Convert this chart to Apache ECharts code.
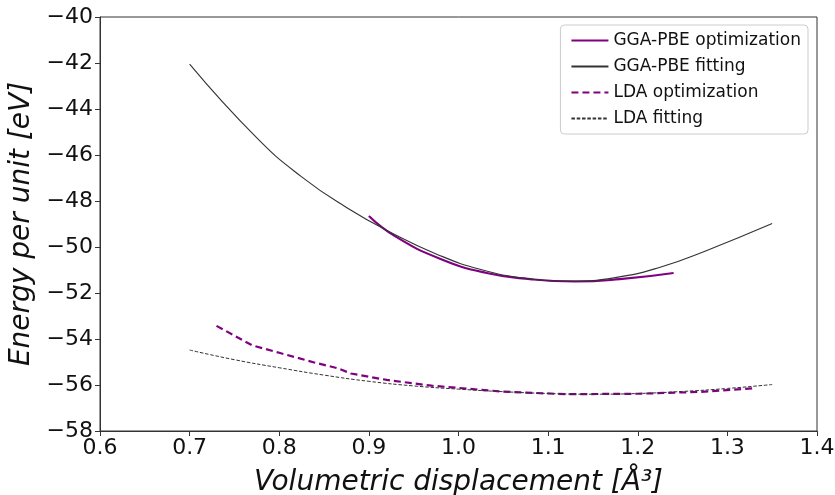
<!DOCTYPE html>
<html>
<head>
<meta charset="utf-8">
<script src="https://cdn.jsdelivr.net/npm/echarts@6/dist/echarts.min.js"></script>
<style>
html,body{margin:0;padding:0;background:#fff;}
#chart{width:835px;height:495px;}
</style>
</head>
<body>
<div id="chart"></div>
<script>
// ---- data ----
const ggaFitX = [0.70, 0.775, 0.825, 0.875, 0.925, 0.975, 1.025, 1.075, 1.125, 1.175, 1.225, 1.275, 1.35];
const ggaFitY = [-42.05, -45.26, -46.95, -48.28, -49.38, -50.3, -50.98, -51.36, -51.48, -51.33, -50.88, -50.18, -48.98];

const ggaOptX = [0.90, 0.93, 0.98, 1.03, 1.08, 1.13, 1.18, 1.24];
const ggaOptY = [-48.65, -49.55, -50.52, -51.12, -51.4, -51.5, -51.4, -51.13];

const ldaFitX = [0.70, 0.75, 0.80, 0.85, 0.90, 0.95, 1.00, 1.05, 1.10, 1.15, 1.20, 1.25, 1.30, 1.35];
const ldaFitY = [-54.48, -54.9, -55.25, -55.57, -55.84, -56.04, -56.18, -56.29, -56.37, -56.4, -56.37, -56.28, -56.15, -55.98];

const ldaOptX = [0.73, 0.77, 0.80, 0.84, 0.865, 0.88, 0.92, 0.97, 1.05, 1.12, 1.20, 1.27, 1.33];
const ldaOptY = [-53.43, -54.28, -54.6, -55.03, -55.27, -55.5, -55.78, -56.03, -56.29, -56.4, -56.38, -56.3, -56.14];

const seriesNames = ['GGA-PBE optimization', 'GGA-PBE fitting', 'LDA optimization', 'LDA fitting'];
const xTicks = {min: 0.6, max: 1.4, step: 0.1};
const yTicks = {min: -58, max: -40, step: 2};
const xTitle = 'Volumetric displacement [Å³]';
const yTitle = 'Energy per unit [eV]';

function pairs(xs, ys){ return xs.map((x,i)=>[x, ys[i]]); }
const FONT = 'DejaVu Sans';
const minus = s => String(s).replace('-', '\u2212');

const chart = echarts.init(document.getElementById('chart'), null, {renderer:'canvas'});
chart.setOption({
  animation: false,
  backgroundColor: '#fff',
  grid: {left: 100, right: 18, top: 17, bottom: 64, show: true, borderColor: '#333', borderWidth: 1,
         containLabel: false, outerBoundsMode: 'none'},
  legend: {
    orient: 'vertical', right: 27, top: 25,
    data: seriesNames,
    itemWidth: 37, itemHeight: 14, itemGap: 9, itemTextGap: 12,
    itemStyle: {opacity: 0, color: 'rgba(0,0,0,0)', borderWidth: 0},
    textStyle: {fontFamily: FONT, fontSize: 17, color: '#111'},
    borderColor: '#ccc', borderWidth: 1, borderRadius: 4,
    padding: [7, 7, 7, 10], backgroundColor: '#fff'
  },
  xAxis: {
    type: 'value', min: xTicks.min, max: xTicks.max, interval: xTicks.step,
    name: xTitle, nameLocation: 'middle', nameGap: 38,
    nameTextStyle: {fontFamily: FONT, fontSize: 28, fontStyle: 'italic', color: '#111'},
    axisLine: {show: true, onZero: false, lineStyle: {color: '#333', width: 1}},
    axisTick: {show: true, length: 5, lineStyle: {color: '#333'}},
    axisLabel: {fontFamily: FONT, fontSize: 22, color: '#111', margin: 6,
      formatter: v => v.toFixed(1)},
    splitLine: {show: false}
  },
  yAxis: {
    type: 'value', min: yTicks.min, max: yTicks.max, interval: yTicks.step,
    name: yTitle, nameLocation: 'middle', nameGap: 55,
    nameTextStyle: {fontFamily: FONT, fontSize: 28, fontStyle: 'italic', color: '#111'},
    axisLine: {show: true, onZero: false, lineStyle: {color: '#333', width: 1}},
    axisTick: {show: true, length: 5, lineStyle: {color: '#333'}},
    axisLabel: {fontFamily: FONT, fontSize: 22, color: '#111', margin: 7,
      formatter: v => minus(v)},
    splitLine: {show: false}
  },
  series: [
    {name: seriesNames[0], type: 'line', data: pairs(ggaOptX, ggaOptY), smooth: true,
     showSymbol: false, symbol: 'none', z: 3,
     lineStyle: {color: '#800080', width: 2.2}, itemStyle: {color: '#800080'}},
    {name: seriesNames[1], type: 'line', data: pairs(ggaFitX, ggaFitY), smooth: true,
     showSymbol: false, symbol: 'none', z: 4,
     lineStyle: {color: '#333', width: 1.1}, itemStyle: {color: '#333'}},
    {name: seriesNames[2], type: 'line', data: pairs(ldaOptX, ldaOptY), smooth: false,
     showSymbol: false, symbol: 'none', z: 3,
     lineStyle: {color: '#800080', width: 2.2, type: [7, 4]}, itemStyle: {color: '#800080'}},
    {name: seriesNames[3], type: 'line', data: pairs(ldaFitX, ldaFitY), smooth: true,
     showSymbol: false, symbol: 'none', z: 4,
     lineStyle: {color: '#333', width: 1, type: [3.5, 1.8]}, itemStyle: {color: '#333'}}
  ]
});
</script>
</body>
</html>
